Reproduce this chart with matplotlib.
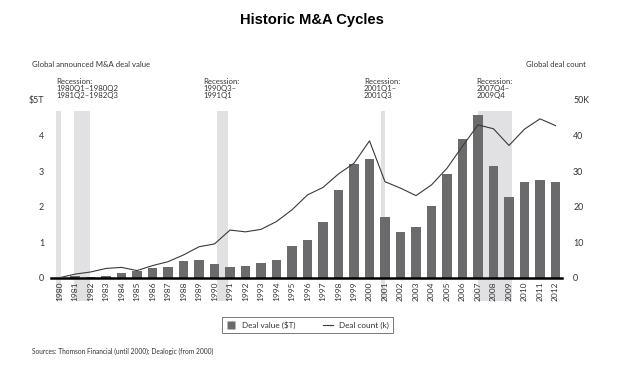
import numpy as np
import matplotlib
matplotlib.use('Agg')
import matplotlib.pyplot as plt
import matplotlib.transforms as mtransforms
from matplotlib.patches import Rectangle
from matplotlib.lines import Line2D

plt.rcParams['font.family'] = ['Lato', 'DejaVu Sans']

#=========================#
#  data                   #
#=========================#
years = list(range(1980, 2013))
deal_value = [0.0, 0.05, 0.02, 0.05, 0.12, 0.20, 0.26, 0.31, 0.47, 0.51,
              0.39, 0.30, 0.32, 0.41, 0.49, 0.89, 1.06, 1.58, 2.47, 3.20,
              3.33, 1.72, 1.28, 1.42, 2.03, 2.92, 3.89, 4.58, 3.14, 2.26,
              2.68, 2.75, 2.70]
deal_count = [0.0, 1.0, 1.6, 2.6, 2.9, 2.0, 3.4, 4.5, 6.4, 8.7,
              9.5, 13.4, 12.9, 13.6, 15.8, 19.1, 23.3, 25.4, 29.2, 32.2,
              38.5, 27.0, 25.2, 23.1, 26.1, 30.8, 37.0, 43.0, 41.9, 37.2,
              41.8, 44.7, 42.8]

# recession bands (in year units, bar centre = year)
rec_start = [1979.77, 1980.94, 1990.18, 2000.74, 2007.02]
rec_end = [1980.08, 1981.97, 1990.85, 2000.98, 2009.21]
rec_labels = ['Recession:\n1980Q1\u20131980Q2\n1981Q2\u20131982Q3',
              'Recession:\n1990Q3\u2013\n1991Q1',
              'Recession:\n2001Q1\u2013\n2001Q3',
              'Recession:\n2007Q4\u2013\n2009Q4']
rec_label_x = [1979.77, 1989.28, 1999.65, 2006.9]

left_ticks = [0, 1, 2, 3, 4, 5]
left_ticklabels = ['0', '1', '2', '3', '4', '$5T']
right_ticks = [0, 10, 20, 30, 40, 50]
right_ticklabels = ['0', '10', '20', '30', '40', '50K']

bar_c = '#6b6b6e'
band_c = '#e1e1e3'
txt_c = '#333333'

#=========================#
#  figure                 #
#=========================#
fig = plt.figure(figsize=(6.19, 3.66), dpi=100, facecolor='white')
ax = fig.add_axes([0.0824, 0.2413, 0.8255, 0.4855])
ax2 = ax.twinx()

# recession bands
trans = mtransforms.blended_transform_factory(ax.transData, ax.transAxes)
for s, e in zip(rec_start, rec_end):
    ax.add_patch(Rectangle((s, -0.13), e - s, 1.068, transform=trans,
                           facecolor=band_c, edgecolor='none', zorder=0, clip_on=False))
for x, lab in zip(rec_label_x, rec_labels):
    ax.text(x, 1.125, lab, transform=trans, fontsize=5.6, va='top', ha='left',
            color=txt_c, linespacing=1.05)

ax.bar(years, deal_value, width=0.61, color=bar_c, zorder=2)
ax2.plot(years, deal_count, color='#3a3a3a', linewidth=0.8, zorder=3)

# lim
ax.set_xlim(1979.45, 2012.42)
ax.set_ylim(0, 5)
ax2.set_ylim(0, 50)

# spines
for a in (ax, ax2):
    for sp in a.spines.values():
        sp.set_visible(False)
ax.spines['bottom'].set_visible(True)
ax.spines['bottom'].set_linewidth(1.8)
ax.spines['bottom'].set_zorder(5)

# ticks
ax.set_xticks(years)
ax.set_xticklabels([str(y) for y in years], rotation=90, fontsize=6.0, color=txt_c)
ax.tick_params(axis='x', length=0, pad=3)
ax.set_yticks(left_ticks)
ax.set_yticklabels(left_ticklabels, fontsize=6.4, color=txt_c)
ax.tick_params(axis='y', length=0, pad=5)
ax2.set_yticks(right_ticks)
ax2.set_yticklabels(right_ticklabels, fontsize=6.4, color=txt_c)
ax2.tick_params(axis='y', length=0, pad=8)

# titles
fig.text(0.504, 0.946, 'Historic M&A Cycles', fontsize=10.6, fontweight='bold',
         ha='center', va='center', family='Liberation Sans')
fig.text(0.052, 0.825, 'Global announced M&A deal value', fontsize=5.6, color=txt_c,
         ha='left', va='center')
fig.text(0.946, 0.825, 'Global deal count', fontsize=5.6, color=txt_c,
         ha='right', va='center')

# legend
handles = [Line2D([], [], marker='s', color='none', markerfacecolor=bar_c,
                  markeredgecolor='none', markersize=6),
           Line2D([], [], color='#3a3a3a', linewidth=0.8)]
leg = fig.legend(handles, ['Deal value ($T)', 'Deal count (k)'], ncol=2,
                 loc='center', bbox_to_anchor=(0.497, 0.112), fontsize=5.9,
                 frameon=True, fancybox=False, edgecolor='#555555',
                 handlelength=1.2, columnspacing=3.4, handletextpad=0.7,
                 borderpad=0.55, borderaxespad=0, handleheight=0.7)
leg.get_frame().set_linewidth(0.7)
for t in leg.get_texts():
    t.set_color(txt_c)

fig.text(0.052, 0.041, 'Sources: Thomson Financial (until 2000); Dealogic (from 2000)',
         fontsize=4.8, color=txt_c, ha='left', va='center')

fig.savefig('out.png', dpi=100, facecolor='white')
plt.close()
